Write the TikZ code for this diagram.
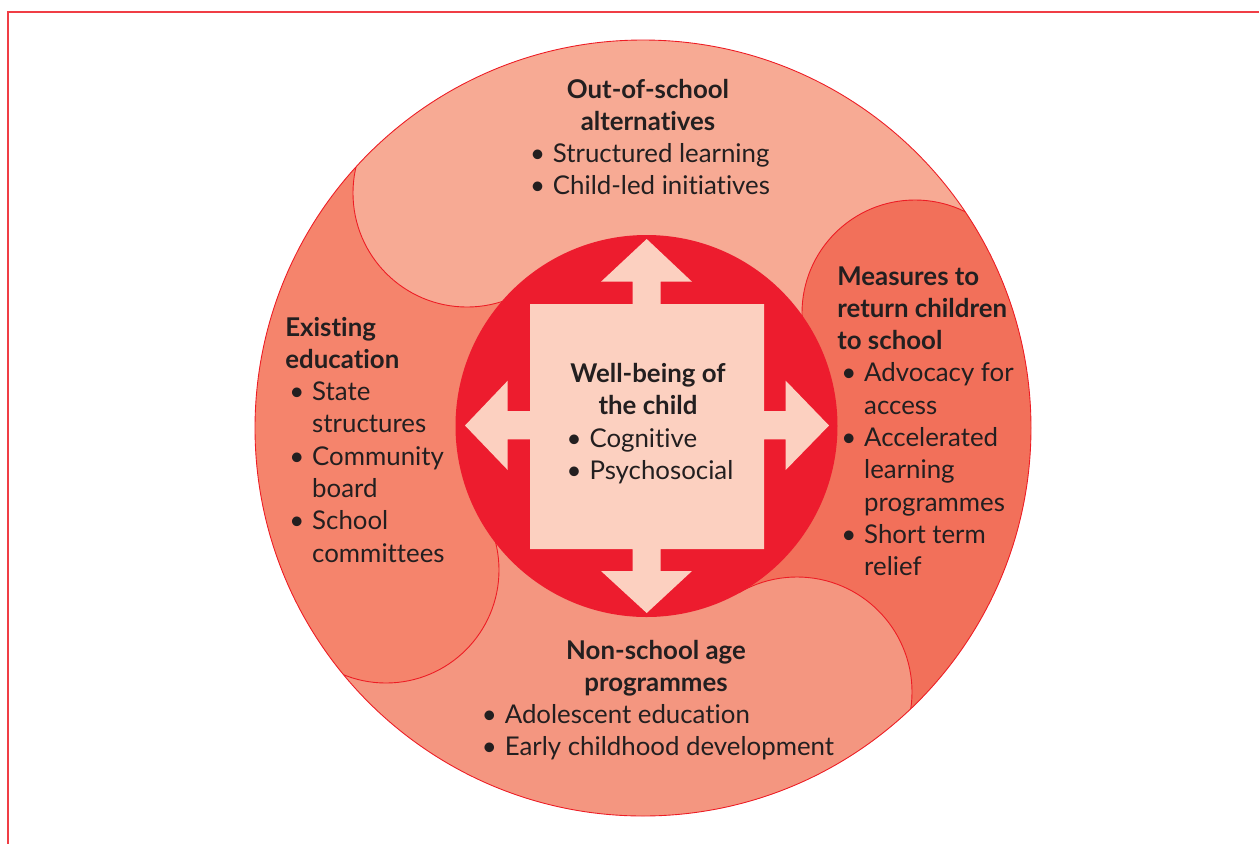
\documentclass[tikz,border=0pt]{standalone}
\usepackage{fontspec}
\setmainfont[Ligatures=NoCommon]{Lato}
\usetikzlibrary{calc}
\definecolor{topc}{RGB}{247,170,148}
\definecolor{leftc}{RGB}{245,132,108}
\definecolor{rightc}{RGB}{242,112,90}
\definecolor{botc}{RGB}{244,150,128}
\definecolor{redc}{RGB}{237,28,46}
\definecolor{sqc}{RGB}{252,208,192}
\definecolor{txt}{RGB}{35,31,32}
\definecolor{linec}{RGB}{237,28,36}
\newcommand\bul{\hspace*{2.3pt}\makebox[13pt][l]{\textbullet}}
\newcommand\ind{\hspace*{15.3pt}}
\tikzset{
  edge/.style={draw=linec, line width=0.5pt},
  frameline/.style={draw=linec!85, line width=0.9pt},
  block/.style={text=txt, inner sep=0pt, font=\fontsize{14.7}{18.4}\selectfont},
}
\begin{document}
\begin{tikzpicture}[x=0.02cm,y=-0.02cm]
\useasboundingbox (0,0) rectangle (1259,843);
% frame
\coordinate (fa) at (8,870);
\coordinate (fb) at (8,12);
\coordinate (fc) at (1290,12);
\draw[frameline] (fa) -- (fb) -- (fc);
% centres
\coordinate (C) at (643,428);
\coordinate (IC) at (646.5,426);
\coordinate (TL) at (467,193);
\coordinate (R) at (915,313);
\coordinate (BR) at (797,692);
\coordinate (L) at (386,570);
\coordinate (TLf) at ($(C)!3.5!(TL)$);
\coordinate (Rf) at ($(C)!3.5!(R)$);
\coordinate (BRf) at ($(C)!3.5!(BR)$);
\coordinate (Lf) at ($(C)!3.5!(L)$);
% regions
\begin{scope}
  \clip (C) circle[radius=388];
  \fill[topc] (C) -- (TLf) -- (Rf) -- cycle;
  \fill[rightc] (C) -- (Rf) -- (BRf) -- cycle;
  \fill[botc] (C) -- (BRf) -- (Lf) -- cycle;
  \fill[leftc] (C) -- (Lf) -- (TLf) -- cycle;
  \fill[topc] (TL) circle[radius=114];
  \fill[rightc] (R) circle[radius=113];
  \fill[botc] (BR) circle[radius=115];
  \fill[leftc] (L) circle[radius=113];
\end{scope}
% lobe outlines
\begin{scope}
  \clip (C) circle[radius=388];
  \clip (C) -- (Lf) -- (TLf) -- cycle;
  \draw[edge] (TL) circle[radius=114];
\end{scope}
\begin{scope}
  \clip (C) circle[radius=388];
  \clip (C) -- (TLf) -- (Rf) -- cycle;
  \draw[edge] (R) circle[radius=113];
\end{scope}
\begin{scope}
  \clip (C) circle[radius=388];
  \clip (C) -- (Rf) -- (BRf) -- cycle;
  \draw[edge] (BR) circle[radius=115];
\end{scope}
\begin{scope}
  \clip (C) circle[radius=388];
  \clip (C) -- (BRf) -- (Lf) -- cycle;
  \draw[edge] (L) circle[radius=113];
\end{scope}
\draw[edge] (C) circle[radius=388];
% inner circle
\fill[redc] (IC) circle[radius=191];
% square with four arrows
\fill[sqc] (530,304) -- (632.7,304) -- (632.7,281.7) -- (601,281.7) -- (646.7,239)
  -- (692,281.7) -- (660.7,281.7) -- (660.7,304) -- (764,304) -- (764,411)
  -- (785.7,411) -- (785.7,380.7) -- (829,425.5) -- (785.7,470) -- (785.7,439.3)
  -- (764,439.3) -- (764,549) -- (660.7,549) -- (660.7,571) -- (692,571)
  -- (646.7,613) -- (601,571) -- (632.7,571) -- (632.7,549) -- (530,549)
  -- (530,439.3) -- (507.7,439.3) -- (507.7,470) -- (465,425.5) -- (507.7,380.7)
  -- (507.7,411) -- (530,411) -- cycle;
% texts
\node[block, anchor=base] (topt) at (648,98) {\begin{tabular}[t]{@{}l@{}}
\multicolumn{1}{@{}c@{}}{\bfseries Out-of-school}\\
\multicolumn{1}{@{}c@{}}{\bfseries alternatives}\\
\bul Structured learning\\
\bul Child-led initiatives
\end{tabular}};
\node[block, anchor=base west] (leftt) at (285,336) {\begin{tabular}[t]{@{}l@{}}
\bfseries Existing\\
\bfseries education\\
\bul State\\
\ind structures\\
\bul Community\\
\ind board\\
\bul School\\
\ind committees
\end{tabular}};
\node[block, anchor=base west] (rightt) at (837,285) {\begin{tabular}[t]{@{}l@{}}
\bfseries Measures to\\
\bfseries return children\\
\bfseries to school\\
\bul Advocacy for\\
\ind access\\
\bul Accelerated\\
\ind learning\\
\ind programmes\\
\bul Short term\\
\ind relief
\end{tabular}};
\node[block, anchor=base] (bott) at (656,659) {\begin{tabular}[t]{@{}l@{}}
\multicolumn{1}{@{}c@{}}{\bfseries Non-school age}\\
\multicolumn{1}{@{}c@{}}{\bfseries programmes}\\
\bul Adolescent education\\
\bul Early childhood development
\end{tabular}};
\node[block, anchor=base] (midt) at (648,382.5) {\begin{tabular}[t]{@{}l@{}}
\multicolumn{1}{@{}c@{}}{\bfseries Well-being of}\\
\multicolumn{1}{@{}c@{}}{\bfseries the child}\\
\bul Cognitive\\
\bul Psychosocial
\end{tabular}};
\end{tikzpicture}
\end{document}
